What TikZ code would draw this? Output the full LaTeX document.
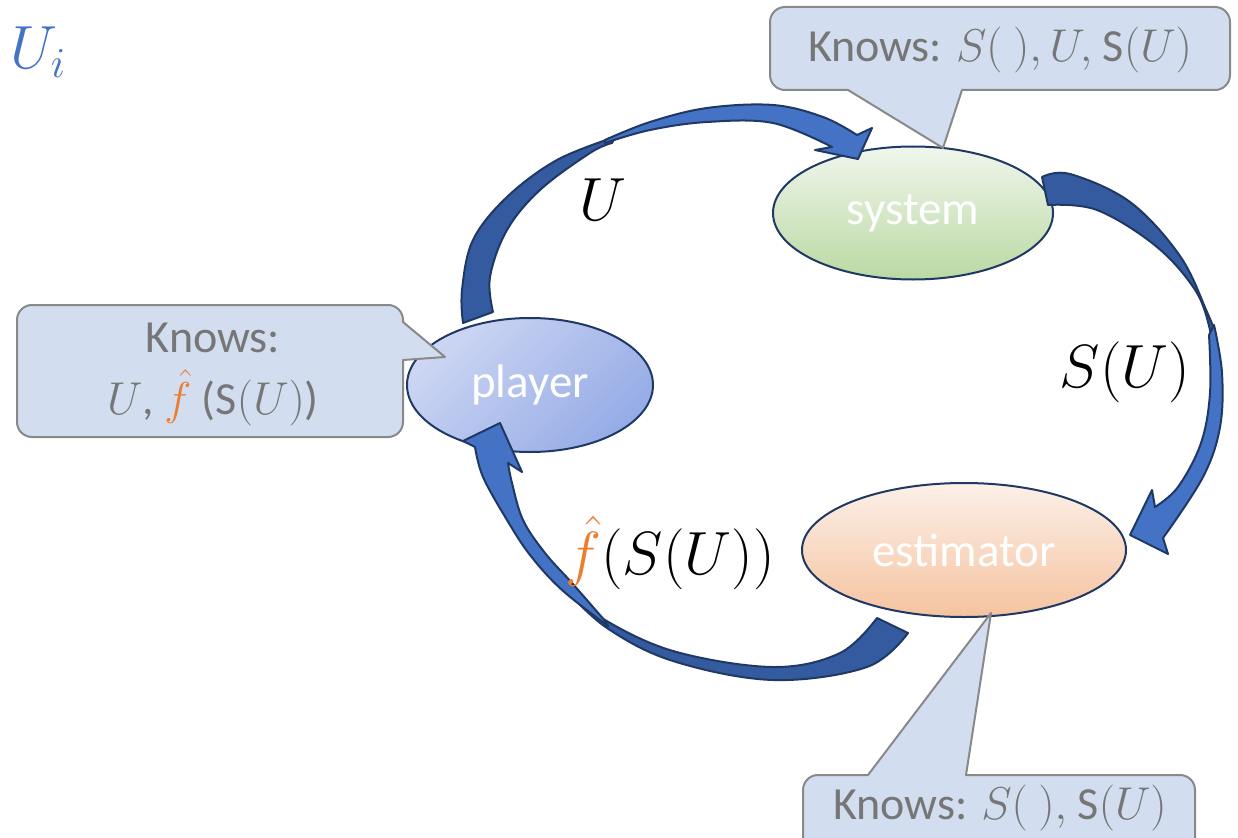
\documentclass[tikz,border=0pt]{standalone}
\usepackage{fix-cm}
\usepackage{fontspec}
\setmainfont{Carlito}
\usetikzlibrary{shapes.geometric}
\definecolor{navy}{RGB}{31,56,100}
\definecolor{arrL}{RGB}{68,114,196}
\definecolor{arrD}{RGB}{52,91,160}
\definecolor{callfill}{RGB}{210,222,239}
\definecolor{callline}{RGB}{137,137,137}
\definecolor{calltext}{RGB}{118,118,118}
\definecolor{orng}{RGB}{237,125,49}
\definecolor{uiblue}{RGB}{68,114,196}
\definecolor{sysT}{RGB}{240,246,236}
\definecolor{sysB}{RGB}{186,217,163}
\definecolor{plyA}{RGB}{205,214,243}
\definecolor{plyB}{RGB}{150,172,230}
\definecolor{estT}{RGB}{253,240,232}
\definecolor{estB}{RGB}{245,195,160}
\begin{document}
\begin{tikzpicture}[x=1pt,y=-1pt,
  blob/.style={ellipse, draw=navy, line width=2pt, inner sep=0pt, text=white,
    font=\fontsize{47}{50}\selectfont},
  arrlight/.style={fill=arrL, draw=navy, line width=2pt, line join=round},
  arrdark/.style={fill=arrD, draw=navy, line width=2pt, line join=round},
  callout/.style={fill=callfill, draw=callline, line width=2pt, line join=round},
  calltxt/.style={text=calltext, font=\fontsize{46}{62}\selectfont, inner sep=0pt},
  biglab/.style={font=\fontsize{61}{64}\selectfont, inner sep=0pt}]
\useasboundingbox (0,0) rectangle (1238,837);
\clip (0,0) rectangle (1238,837);

% nodes (ellipses)
\node[blob, minimum width=280pt, minimum height=133pt, top color=sysT, bottom color=sysB] (sys) at (913,213) {system};
\node[blob, minimum width=246pt, minimum height=134pt, left color=plyA, right color=plyB, shading angle=45] (ply) at (530,385) {player};
\node[blob, minimum width=324pt, minimum height=134pt, top color=estT, bottom color=estB] (est) at (964,550) {estimator};

% arrow U : player -> system
\filldraw[arrdark] plot[smooth, tension=0.6] coordinates {(463,323) (462,290) (473,240) (507,197) (557,160) (615,137)}
  -- plot[smooth, tension=0.6] coordinates {(612,143) (590,153) (540,190) (507,230) (490,277) (493,312)} -- cycle;
\filldraw[arrlight] plot[smooth, tension=0.6] coordinates {(605,140) (650,122) (707,108) (773,105) (823,117) (857,135)}
  -- (872,128) -- (858,159) -- (815,150)
  -- plot[smooth, tension=0.6] coordinates {(832,147) (773,123) (707,122) (650,130) (605,143)} -- cycle;

% arrow S(U) : system -> estimator
\filldraw[arrdark] plot[smooth, tension=0.6] coordinates {(1042,177) (1070,174) (1130,202) (1180,256) (1207,312) (1216,335)}
  -- plot[smooth, tension=0.6] coordinates {(1211,335) (1197,293) (1157,247) (1097,210) (1048,205)} -- cycle;
\filldraw[arrlight] plot[smooth, tension=0.6] coordinates {(1214,325) (1222,373) (1220,427) (1203,477) (1163,538)}
  -- (1168,554) -- (1130,535) -- (1152,490)
  -- plot[smooth, tension=0.6] coordinates {(1155,507) (1178,487) (1201,443) (1210,393) (1209,335)} -- cycle;

% arrow f(S(U)) : estimator -> player
\filldraw[arrdark] plot[smooth, tension=0.6] coordinates {(908,633) (867,667) (773,680) (673,661) (607,628) (566,590)}
  -- plot[smooth, tension=0.6] coordinates {(568,588) (600,617) (673,651) (773,667) (840,653) (877,618)} -- cycle;
\filldraw[arrlight] plot[smooth, tension=0.6] coordinates {(608,626) (562,590) (530,555) (507,520) (483,477) (475,447)}
  -- (463,441) -- (500,423) -- (522,472)
  -- plot[smooth, tension=0.6] coordinates {(508,463) (512,483) (523,520) (545,553) (572,583) (606,622)} -- cycle;

% labels
\node[biglab] (lu) at (603,200) {$U$};
\node[biglab] (ls) at (1125,372) {$S(U)$};
\node[biglab] (lf) at (670,553) {$\textcolor{orng}{\hat f}(S(U))$};
\node[biglab, text=uiblue, anchor=west] (ui) at (10,52) {$U_i$};

% callouts
\coordinate (tipS) at (943,148);
\coordinate (tipP) at (445,357);
\coordinate (tipE) at (991,613);
\draw[callout] (tipS) -- (848,90) [rounded corners=15pt] -- (770,90) -- (770,7) -- (1230,7) -- (1230,90) [sharp corners] -- (962,90) -- cycle;
\draw[callout] (tipP) -- (403,322) [rounded corners=15pt] -- (403,305) -- (17,305) -- (17,437) -- (403,437) [sharp corners] -- (403,360) -- cycle;
\draw[callout] (tipE) -- (868,775) [rounded corners=15pt] -- (803,775) -- (803,860) -- (1195,860) -- (1195,775) [sharp corners] -- (966,775) -- cycle;

\node[calltxt] (ct1) at (1000,50) {Knows: $S(\ ), U,$ S$(U)$};
\node[calltxt, align=center] (ct2) at (213,374) {Knows:\\ $U$, $\textcolor{orng}{\hat f}$ (S$(U)$)};
\node[calltxt] (ct3) at (1000,808) {Knows: $S(\ ),$ S$(U)$};
\end{tikzpicture}
\end{document}
